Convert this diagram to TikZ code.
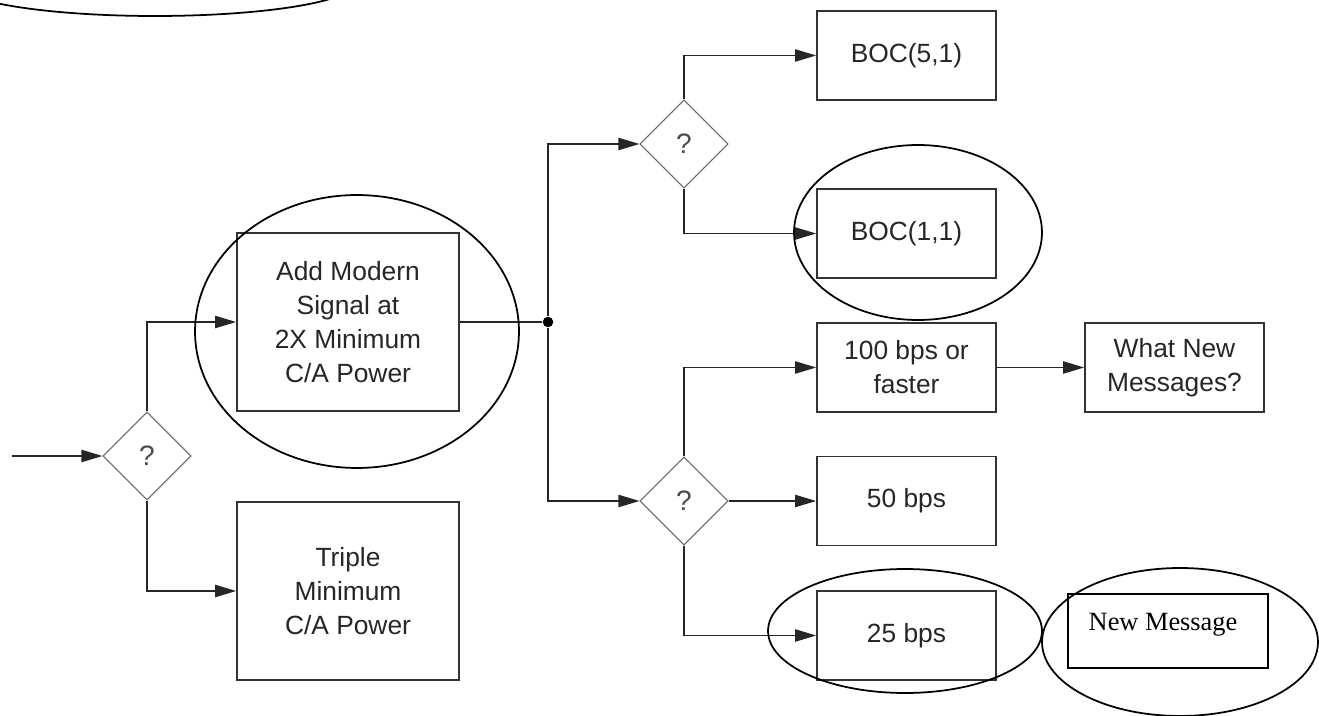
\documentclass[tikz,border=0pt]{standalone}
\usepackage{fontspec}
\setmainfont{Liberation Sans}
\newfontfamily\msgserif{Liberation Serif}
\usetikzlibrary{arrows.meta, shapes.geometric}

\begin{document}
\begin{tikzpicture}[x=0.02cm, y=-0.02cm,
  font=\fontsize{15}{19.3}\selectfont,
  box/.style={draw=black!80, line width=1pt, align=center, text=black!85, inner sep=0pt},
  bigbox/.style={box, minimum width=4.44cm, minimum height=3.56cm},
  smallbox/.style={box, minimum width=3.58cm, minimum height=1.78cm},
  decision/.style={diamond, draw=black!60, line width=0.6pt, inner sep=0pt,
    minimum width=1.76cm, minimum height=1.76cm, text=black!70,
    font=\fontsize{16}{16}\selectfont},
  wire/.style={draw=black!85, line width=0.8pt},
  flow/.style={wire, -{Triangle[length=12pt, width=7pt]}},
  ring/.style={black, line width=1pt}]
  \useasboundingbox (0,0) rectangle (1319,716);

  \coordinate (in) at (12,456);
  \node[decision] (d1) at (147,456) {?};
  \node[bigbox] (mod) at (348,322) {Add Modern\\Signal at\\2X Minimum\\C/A Power};
  \node[bigbox] (triple) at (348,591) {Triple\\Minimum\\C/A Power};
  \node[circle, fill=black, inner sep=0pt, minimum size=6pt] (junc) at (548,322) {};
  \node[decision] (d2) at (684,144) {?};
  \node[decision] (d3) at (684,501) {?};
  \node[smallbox] (boc5) at (906.5,55.5) {BOC(5,1)};
  \node[smallbox] (boc1) at (906.5,233.5) {BOC(1,1)};
  \node[smallbox] (r100) at (906.5,367.5) {100 bps or\\faster};
  \node[smallbox] (r50) at (906.5,501) {50 bps};
  \node[smallbox] (r25) at (906.5,635.5) {25 bps};
  \node[smallbox] (what) at (1174.5,367.5) {What New\\Messages?};
  \node[draw=black, line width=1pt, minimum width=4cm, minimum height=1.48cm] (newmsg) at (1168,631) {};
  \node[anchor=base, font=\msgserif\fontsize{15}{18}\selectfont] (newtxt) at (1163,630) {New Message};

  \draw[flow] (in) -- (d1.west);
  \draw[flow] (d1.north) |- (mod.west);
  \draw[flow] (d1.south) |- (triple.west);
  \draw[wire] (mod.east) -- (junc);
  \draw[flow] (junc) |- (d2.west);
  \draw[flow] (junc) |- (d3.west);
  \draw[flow] (d2.north) |- (boc5.west);
  \draw[flow] (d2.south) |- (boc1.west);
  \draw[flow] (d3.north) |- (r100.west);
  \draw[flow] (d3.east) -- (r50.west);
  \draw[flow] (d3.south) |- (r25.west);
  \draw[flow] (r100.east) -- (what.west);

  \draw[ring] (155,-17) ellipse [x radius=4cm, y radius=0.66cm];
  \draw[ring] (357,331.5) ellipse [x radius=3.24cm, y radius=2.73cm];
  \draw[ring] (918,232.5) ellipse [x radius=2.48cm, y radius=1.75cm];
  \draw[ring] (905,631) ellipse [x radius=2.74cm, y radius=1.24cm];
  \draw[ring] (1180,642) ellipse [x radius=2.76cm, y radius=1.48cm];
\end{tikzpicture}
\end{document}
